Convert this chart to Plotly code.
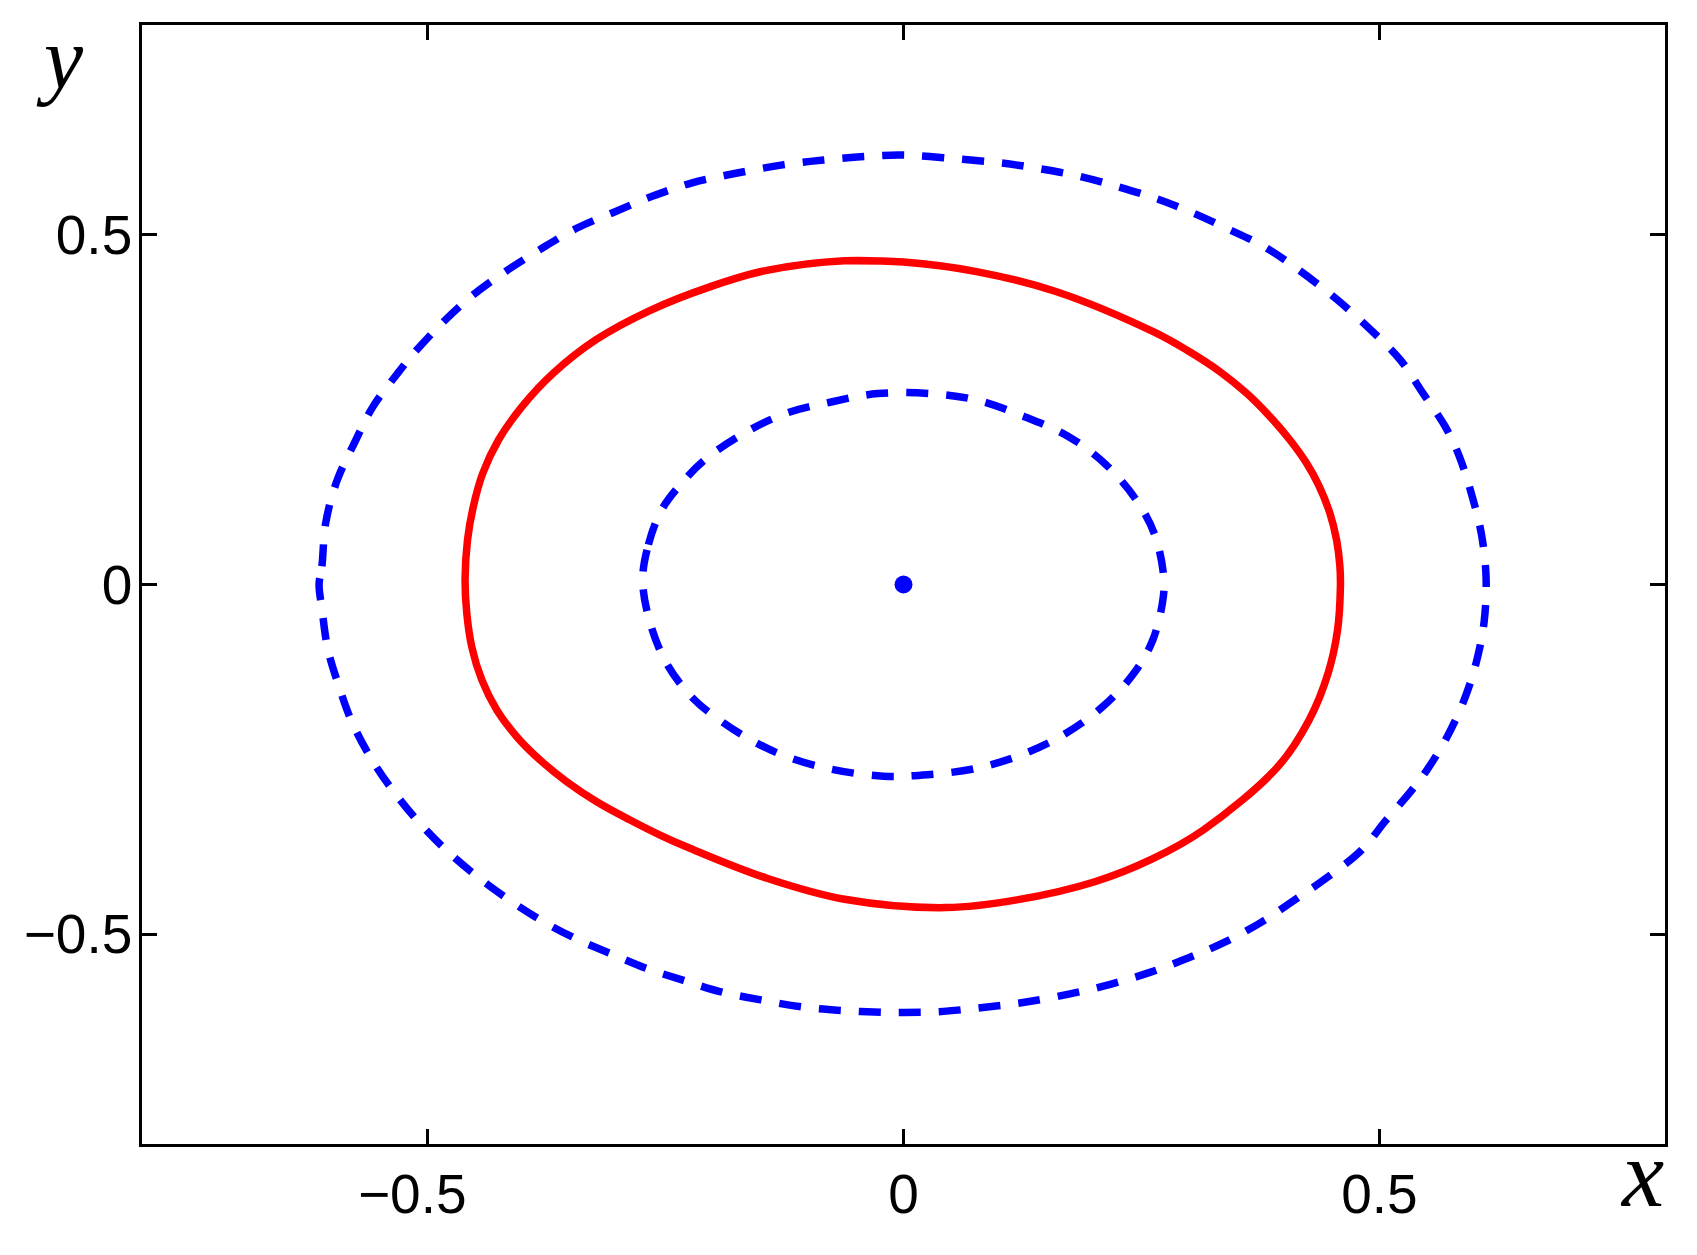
import plotly.graph_objects as go

# ---- data (data units) ----
# red closed orbit (first two points repeated at the end to close it smoothly)
red_x = [-0.062, 0.000, 0.078, 0.160, 0.2624, 0.2975, 0.3325, 0.3605, 0.385, 0.406,
         0.4235, 0.4365, 0.448, 0.455, 0.4585, 0.459, 0.456, 0.446, 0.426, 0.393,
         0.315, 0.262, 0.201, 0.119, 0.045, -0.062, -0.1435, -0.2243, -0.2558, -0.2873,
         -0.3223, -0.3538, -0.3818, -0.4063, -0.4273, -0.443, -0.4536, -0.4588, -0.4606, -0.458,
         -0.452, -0.442, -0.4255, -0.401, -0.368, -0.323, -0.266, -0.205, -0.1435, -0.062,
         0.000]
red_y = [0.463, 0.461, 0.447, 0.419, 0.3615, 0.3353, 0.3043, 0.2734, 0.240, 0.2066,
         0.1733, 0.141, 0.1018, 0.0636, 0.0254, -0.003, -0.065, -0.127, -0.194, -0.261,
         -0.351, -0.392, -0.425, -0.451, -0.462, -0.450, -0.420, -0.3772, -0.3582, -0.3367,
         -0.3106, -0.282, -0.251, -0.2176, -0.1794, -0.1365, -0.089, -0.041, 0.0064, 0.064,
         0.111, 0.159, 0.2066, 0.254, 0.302, 0.350, 0.392, 0.4249, 0.4492, 0.463,
         0.461]

outer_x = [-0.614, -0.611, -0.607, -0.595, -0.577, -0.5575, -0.532, -0.5155, -0.486, -0.454,
           -0.421, -0.383, -0.344, -0.303, -0.264, -0.223, -0.176, -0.127, -0.084, -0.041,
           0.000, 0.052, 0.101, 0.141, 0.184, 0.225, 0.265, 0.301, 0.340, 0.379,
           0.413, 0.454, 0.491, 0.522, 0.546, 0.569, 0.584, 0.597, 0.607, 0.612,
           0.610, 0.602, 0.589, 0.571, 0.550, 0.534, 0.507, 0.481, 0.446, 0.411,
           0.377, 0.338, 0.299, 0.258, 0.211, 0.162, 0.119, 0.076, 0.035, 0.000,
           -0.015, -0.066, -0.107, -0.150, -0.193, -0.231, -0.270, -0.309, -0.348, -0.387,
           -0.432, -0.473, -0.503, -0.530, -0.556, -0.579, -0.593, -0.605, -0.611, -0.614]
outer_y = [0.000, 0.026, 0.088, 0.149, 0.202, 0.254, 0.301, 0.329, 0.372, 0.412,
           0.445, 0.478, 0.509, 0.533, 0.555, 0.574, 0.588, 0.600, 0.607, 0.612,
           0.614, 0.609, 0.603, 0.595, 0.584, 0.569, 0.552, 0.533, 0.509, 0.483,
           0.452, 0.409, 0.364, 0.321, 0.273, 0.226, 0.183, 0.128, 0.073, 0.011,
           -0.053, -0.110, -0.165, -0.218, -0.265, -0.294, -0.337, -0.380, -0.418, -0.451,
           -0.482, -0.511, -0.534, -0.555, -0.574, -0.589, -0.599, -0.606, -0.611, -0.612,
           -0.612, -0.609, -0.604, -0.594, -0.582, -0.566, -0.549, -0.527, -0.504, -0.475,
           -0.434, -0.389, -0.349, -0.306, -0.256, -0.198, -0.146, -0.091, -0.034, 0.000]

inner_x = [-0.274, -0.268, -0.254, -0.233, -0.209, -0.168, -0.123, -0.076, -0.027, 0.027,
           0.076, 0.127, 0.174, 0.213, 0.246, 0.264, 0.273, 0.273, 0.262, 0.242,
           0.209, 0.168, 0.123, 0.076, 0.025, -0.021, -0.076, -0.125, -0.162, -0.193,
           -0.221, -0.248, -0.266, -0.274]
inner_y = [0.006, 0.057, 0.107, 0.145, 0.178, 0.216, 0.245, 0.261, 0.273, 0.273,
           0.264, 0.240, 0.211, 0.171, 0.118, 0.071, 0.016, -0.017, -0.079, -0.127,
           -0.175, -0.215, -0.244, -0.263, -0.272, -0.274, -0.264, -0.245, -0.221, -0.194,
           -0.163, -0.115, -0.056, 0.006]

center_x = [0.0]
center_y = [0.0]

tick_vals = [-0.5, 0, 0.5]
x_tick_text = ["\u22120.5\u2007", "0", "0.5"]
y_tick_text = ["\u22120.5", "0", "0.5"]

BLUE = "#0000FF"
RED = "#FF0000"

fig = go.Figure()
fig.add_trace(go.Scatter(x=outer_x, y=outer_y, mode="lines",
                         line=dict(color=BLUE, width=7.5, dash="22px,18px", shape="spline", smoothing=1.0),
                         showlegend=False, hoverinfo="skip"))
fig.add_trace(go.Scatter(x=inner_x, y=inner_y, mode="lines",
                         line=dict(color=BLUE, width=7.5, dash="22px,18px", shape="spline", smoothing=1.0),
                         showlegend=False, hoverinfo="skip"))
fig.add_trace(go.Scatter(x=red_x, y=red_y, mode="lines",
                         line=dict(color=RED, width=7.5, shape="spline", smoothing=1.0),
                         showlegend=False, hoverinfo="skip"))
fig.add_trace(go.Scatter(x=center_x, y=center_y, mode="markers",
                         marker=dict(color=BLUE, size=18, line=dict(width=0)),
                         showlegend=False, hoverinfo="skip"))

axis_common = dict(
    showline=True, linecolor="black", linewidth=2.5, mirror="ticks",
    ticks="inside", ticklen=15, tickwidth=2.5, tickcolor="black",
    showgrid=False, zeroline=False,
    tickmode="array", tickvals=tick_vals,
    tickfont=dict(family="Liberation Sans, Arial, sans-serif", size=55, color="black"),
    range=[-0.8, 0.8],
)

# The page body has an 8px margin, so the figure is shifted/shrunk to compensate.
fig.update_layout(
    width=1681, height=1239,
    paper_bgcolor="white", plot_bgcolor="white",
    margin=dict(l=134, r=24, t=17, b=103, autoexpand=False),
    xaxis=dict(ticktext=x_tick_text, **axis_common),
    yaxis=dict(ticktext=y_tick_text, ticklabelstandoff=-4, **axis_common),
    annotations=[
        dict(text="y", xref="paper", yref="paper", x=-0.0538, y=1.0152,
             xanchor="center", yanchor="top", showarrow=False,
             font=dict(family="Liberation Serif, serif", size=88, color="black", style="italic")),
        dict(text="x", xref="paper", yref="paper", x=0.985, y=-0.027,
             xanchor="center", yanchor="middle", showarrow=False,
             font=dict(family="Liberation Serif, serif", size=95, color="black", style="italic")),
    ],
)

fig.write_html("out.html")
